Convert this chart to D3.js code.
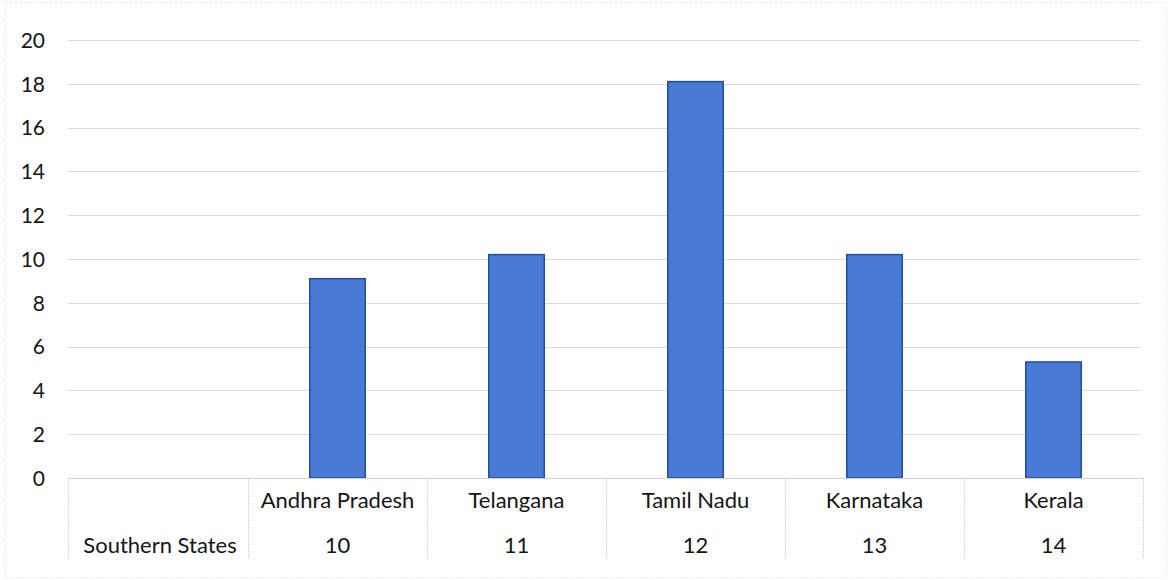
<!DOCTYPE html>
<html>
<head>
<meta charset="utf-8">
<script src="https://cdn.jsdelivr.net/npm/d3@7"></script>
<style>
  html, body { margin: 0; padding: 0; background: #ffffff; }
  svg { display: block; }
  text { font-family: Lato, "Open Sans", sans-serif; fill: #151515; }
</style>
</head>
<body>
<svg id="chart" width="1169" height="580"></svg>
<script>
const categories = ["Andhra Pradesh", "Telangana", "Tamil Nadu", "Karnataka", "Kerala"];
const barValues = [9.1, 10.2, 18.1, 10.2, 5.3];
const seriesName = "Southern States";
const tableValues = [10, 11, 12, 13, 14];
const yTicks = [0, 2, 4, 6, 8, 10, 12, 14, 16, 18, 20];

const svg = d3.select("#chart");
const W = 1169, H = 580;
const plotLeft = 68, plotRight = 1143, tableLeft = 248;
const yTop = 40, yZero = 478, tableBottom = 558;

const y = d3.scaleLinear().domain([0, 20]).range([yZero, yTop]);
const x = d3.scaleBand().domain(categories).range([tableLeft, plotRight])
  .paddingInner(0.69).paddingOuter(0.345);

// outer faint border
svg.append("rect").attr("x", 4.5).attr("y", 2.5).attr("width", W - 7).attr("height", H - 5)
  .attr("fill", "none").attr("stroke", "#ece8f0").attr("stroke-width", 1)
  .attr("stroke-dasharray", "3,2");

// gridlines
svg.append("g").selectAll("line").data(yTicks.filter(d => d > 0)).join("line")
  .attr("x1", plotLeft).attr("x2", plotRight - 3)
  .attr("y1", d => Math.round(y(d)) + 0.5).attr("y2", d => Math.round(y(d)) + 0.5)
  .attr("stroke", "#dcd8e2").attr("stroke-width", 1);

// y axis labels
const yAxis = d3.axisLeft(y).tickValues(yTicks).tickSize(0).tickPadding(0);
const gy = svg.append("g").attr("transform", `translate(45,0)`).call(yAxis);
gy.select(".domain").remove();
gy.selectAll("text").style("font-family", "Lato, sans-serif").style("font-size", "21px")
  .attr("fill", "#151515").attr("dy", "0.35em");

// bars
svg.append("g").selectAll("rect").data(barValues).join("rect")
  .attr("x", (d, i) => x(categories[i]))
  .attr("width", x.bandwidth())
  .attr("y", d => y(d))
  .attr("height", d => y(0) - y(d))
  .attr("fill", "#4a7bd4")
  .attr("stroke", "#1f4ea6")
  .attr("stroke-width", 1.5);

// data table
const tbl = svg.append("g");
const lineColor = "#d6d2dc";
tbl.append("line").attr("x1", plotLeft).attr("x2", plotRight)
  .attr("y1", yZero + 0.5).attr("y2", yZero + 0.5).attr("stroke", lineColor);
const colEdges = [plotLeft, tableLeft].concat(categories.map(c => x(c) - x.step() * x.paddingOuter() + x.step()));
tbl.selectAll("line.v").data(colEdges).join("line").attr("class", "v")
  .attr("x1", d => Math.round(d) + 0.5).attr("x2", d => Math.round(d) + 0.5)
  .attr("y1", yZero).attr("y2", tableBottom)
  .attr("stroke", lineColor).attr("stroke-dasharray", "2,1");

const catRowY = 500, valRowY = 545;
tbl.selectAll("text.cat").data(categories).join("text").attr("class", "cat")
  .attr("x", d => x(d) + x.bandwidth() / 2).attr("y", catRowY)
  .attr("text-anchor", "middle").attr("dy", "0.35em")
  .style("font-size", "22px").text(d => d);
tbl.selectAll("text.val").data(tableValues).join("text").attr("class", "val")
  .attr("x", (d, i) => x(categories[i]) + x.bandwidth() / 2).attr("y", valRowY)
  .attr("text-anchor", "middle").attr("dy", "0.35em")
  .style("font-size", "22px").text(d => d);
tbl.append("text").attr("x", (plotLeft + tableLeft) / 2 + 2).attr("y", valRowY)
  .attr("text-anchor", "middle").attr("dy", "0.35em")
  .style("font-size", "22px").text(seriesName);
</script>
</body>
</html>
